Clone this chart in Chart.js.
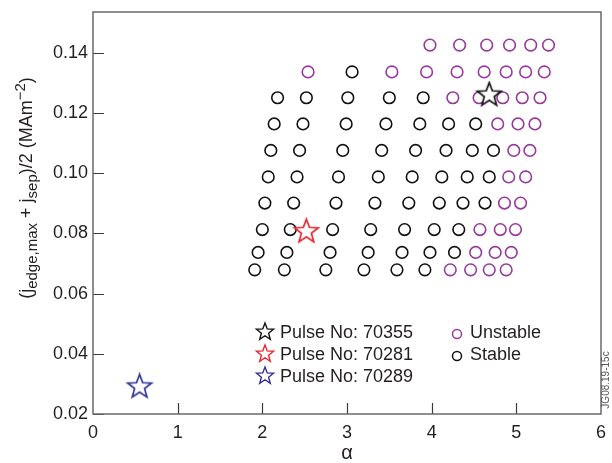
<!DOCTYPE html>
<html>
<head>
<meta charset="utf-8">
<script src="https://cdn.jsdelivr.net/npm/chart.js@4/dist/chart.umd.min.js"></script>
<style>
  html, body { margin: 0; padding: 0; background: #fff; }
  #wrap { width: 612px; height: 463px; }
</style>
</head>
<body>
<div id="wrap"><canvas id="stabilityChart" width="612" height="463"></canvas></div>
<script>
// rows of the scan, (j_edge,max + j_sep)/2 for each row, top to bottom
const rowJ = [0.1426, 0.1337, 0.1251, 0.1164, 0.1076, 0.0988, 0.0901, 0.0813, 0.0737, 0.0679];

// alpha of the stable points in each row
const stableAlpha = [
    [],
    [3.06],
    [2.18, 2.52, 3.01, 3.50, 3.90],
    [2.14, 2.48, 2.99, 3.46, 3.86, 4.20, 4.52],
    [2.10, 2.44, 2.95, 3.41, 3.81, 4.17, 4.48, 4.73],
    [2.07, 2.41, 2.90, 3.37, 3.77, 4.12, 4.42, 4.68],
    [2.03, 2.37, 2.87, 3.33, 3.73, 4.09, 4.37, 4.63],
    [2.00, 2.33, 2.83, 3.28, 3.68, 4.03, 4.32],
    [1.95, 2.29, 2.80, 3.25, 3.65, 3.98, 4.27],
    [1.91, 2.26, 2.75, 3.20, 3.59, 3.92]
];

// alpha of the unstable points in each row
const unstableAlpha = [
    [3.98, 4.33, 4.65, 4.92, 5.17, 5.38],
    [2.54, 3.53, 3.94, 4.30, 4.62, 4.88, 5.11, 5.33],
    [4.25, 4.56, 4.84, 5.07, 5.28],
    [4.78, 5.02, 5.22],
    [4.97, 5.16],
    [4.91, 5.11],
    [4.86, 5.05],
    [4.57, 4.81, 4.99],
    [4.52, 4.75, 4.94],
    [4.22, 4.46, 4.68, 4.88]
];

// experimental pulses (stars)
const pulseNames = ["70355", "70281", "70289"];
const pulseAlpha = [4.68, 2.52, 0.55];
const pulseJ = [0.1260, 0.0806, 0.0290];
const pulseColors = ["#111111", "#e8232b", "#2e3192"];

const xTicks = [0, 1, 2, 3, 4, 5, 6];
const yTicks = [0.02, 0.04, 0.06, 0.08, 0.10, 0.12, 0.14];

const purple = "#97399c";
const textColor = "#231f20";
const fontFamily = '"Liberation Sans", Arial, sans-serif';

function toPoints(alphaRows) {
    const pts = [];
    alphaRows.forEach((row, i) => {
        row.forEach(a => pts.push({ x: a, y: rowJ[i] }));
    });
    return pts;
}

function starImage(color, R, lw) {
    const c = document.createElement("canvas");
    const s = Math.ceil(2 * R + 4);
    c.width = s;
    c.height = s;
    const g = c.getContext("2d");
    g.translate(s / 2, s / 2);
    g.beginPath();
    for (let i = 0; i < 10; i++) {
        const r = i % 2 ? R * 0.42 : R;
        const ang = -Math.PI / 2 + i * Math.PI / 5;
        g.lineTo(r * Math.cos(ang), r * Math.sin(ang));
    }
    g.closePath();
    g.fillStyle = "#fff";
    g.fill();
    g.lineWidth = lw;
    g.lineJoin = "miter";
    g.strokeStyle = color;
    g.stroke();
    return c;
}

const plotStars = pulseColors.map(c => starImage(c, 12.5, 1.7));
const legendStars = pulseColors.map(c => starImage(c, 9, 1.4));

// frame, inward ticks, y title, legend and figure id
const framePlugin = {
    id: "frame",
    afterDraw(chart) {
        const { ctx, chartArea: a, scales: { x, y } } = chart;
        ctx.save();

        ctx.strokeStyle = "#3a3a3a";
        ctx.lineWidth = 1.2;
        ctx.beginPath();
        yTicks.forEach(v => {
            const py = Math.round(y.getPixelForValue(v)) + 0.5;
            ctx.moveTo(a.left, py);
            ctx.lineTo(a.left + 11, py);
        });
        xTicks.slice(1, -1).forEach(v => {
            const px = Math.round(x.getPixelForValue(v)) + 0.5;
            ctx.moveTo(px, a.bottom);
            ctx.lineTo(px, a.bottom - 11);
        });
        ctx.stroke();

        ctx.strokeStyle = "#6a6a6a";
        ctx.lineWidth = 1.5;
        ctx.strokeRect(a.left, a.top, a.right - a.left, a.bottom - a.top);

        // y axis title with sub/superscripts
        const parts = [
            { t: "(j", k: 0 }, { t: "edge,max", k: 1 }, { t: " + j", k: 0 },
            { t: "sep", k: 1 }, { t: ")/2 (MAm", k: 0 }, { t: "\u22122", k: 2 }, { t: ")", k: 0 }
        ];
        const sizes = [18, 15, 15];
        const shifts = [0, 5, -7];
        let total = 0;
        parts.forEach(p => {
            ctx.font = sizes[p.k] + "px " + fontFamily;
            p.w = ctx.measureText(p.t).width;
            total += p.w;
        });
        ctx.translate(26, 188);
        ctx.rotate(-Math.PI / 2);
        ctx.fillStyle = textColor;
        ctx.textBaseline = "alphabetic";
        let cx = -total / 2;
        parts.forEach(p => {
            ctx.font = sizes[p.k] + "px " + fontFamily;
            ctx.fillText(p.t, cx, 6 + shifts[p.k]);
            cx += p.w;
        });
        ctx.setTransform(1, 0, 0, 1, 0, 0);

        // legend
        ctx.font = "18px " + fontFamily;
        ctx.textBaseline = "middle";
        ctx.fillStyle = textColor;
        const lx = a.left + 172, ly = a.top + 320, gap = 22;
        pulseNames.forEach((name, i) => {
            const img = legendStars[i];
            ctx.drawImage(img, lx - img.width / 2, ly + i * gap - img.height / 2);
            ctx.fillText("Pulse No: " + name, lx + 15, ly + i * gap + 1);
        });
        const cx2 = a.left + 364;
        [["Unstable", purple], ["Stable", "#111"]].forEach(([label, col], i) => {
            ctx.beginPath();
            ctx.arc(cx2, ly + 2 + i * gap, 4.5, 0, Math.PI * 2);
            ctx.strokeStyle = col;
            ctx.lineWidth = 1.5;
            ctx.stroke();
            ctx.fillText(label, cx2 + 13, ly + i * gap + 1);
        });

        // figure id
        ctx.font = "10px " + fontFamily;
        ctx.fillStyle = "#555";
        ctx.textAlign = "center";
        ctx.translate(606, 380);
        ctx.rotate(-Math.PI / 2);
        ctx.fillText("JG08.19-15c", 0, 0);
        ctx.restore();
    }
};

const ctx = document.getElementById("stabilityChart").getContext("2d");
const stabilityChart = new Chart(ctx, {
    type: "scatter",
    data: {
        datasets: [
            ...pulseNames.map((name, i) => ({
                label: "Pulse No: " + name,
                data: [{ x: pulseAlpha[i], y: pulseJ[i] }],
                pointStyle: plotStars[i],
                order: 0
            })),
            {
                label: "Unstable",
                data: toPoints(unstableAlpha),
                pointStyle: "circle",
                pointRadius: 5.8,
                borderColor: purple,
                backgroundColor: "rgba(0,0,0,0)",
                borderWidth: 1.6,
                order: 1
            },
            {
                label: "Stable",
                data: toPoints(stableAlpha),
                pointStyle: "circle",
                pointRadius: 5.8,
                borderColor: "#111",
                backgroundColor: "rgba(0,0,0,0)",
                borderWidth: 1.6,
                order: 1
            }
        ]
    },
    options: {
        responsive: false,
        animation: false,
        layout: { padding: { top: 12, right: 11, left: 0, bottom: 0 } },
        plugins: {
            legend: { display: false },
            tooltip: { enabled: false }
        },
        scales: {
            x: {
                type: "linear",
                min: 0,
                max: 6,
                grid: { display: false, drawTicks: false },
                border: { display: false },
                afterBuildTicks: s => { s.ticks = xTicks.map(v => ({ value: v })); },
                afterFit: s => { s.height = 49; s.paddingLeft = 0; s.paddingRight = 0; },
                ticks: {
                    padding: 8,
                    color: textColor,
                    font: { family: fontFamily, size: 18 },
                    callback: v => String(v)
                },
                title: {
                    display: true,
                    text: "\u03b1",
                    color: textColor,
                    font: { family: fontFamily, size: 20 },
                    padding: { top: 0, bottom: -2 }
                }
            },
            y: {
                type: "linear",
                min: 0.02,
                max: 0.1536,
                grid: { display: false, drawTicks: false },
                border: { display: false },
                afterBuildTicks: s => { s.ticks = yTicks.map(v => ({ value: v })); },
                afterFit: s => { s.width = 93; s.paddingTop = 0; s.paddingBottom = 0; },
                ticks: {
                    padding: 5,
                    color: textColor,
                    font: { family: fontFamily, size: 18 },
                    callback: v => v.toFixed(2)
                }
            }
        }
    },
    plugins: [framePlugin]
});
</script>
</body>
</html>
